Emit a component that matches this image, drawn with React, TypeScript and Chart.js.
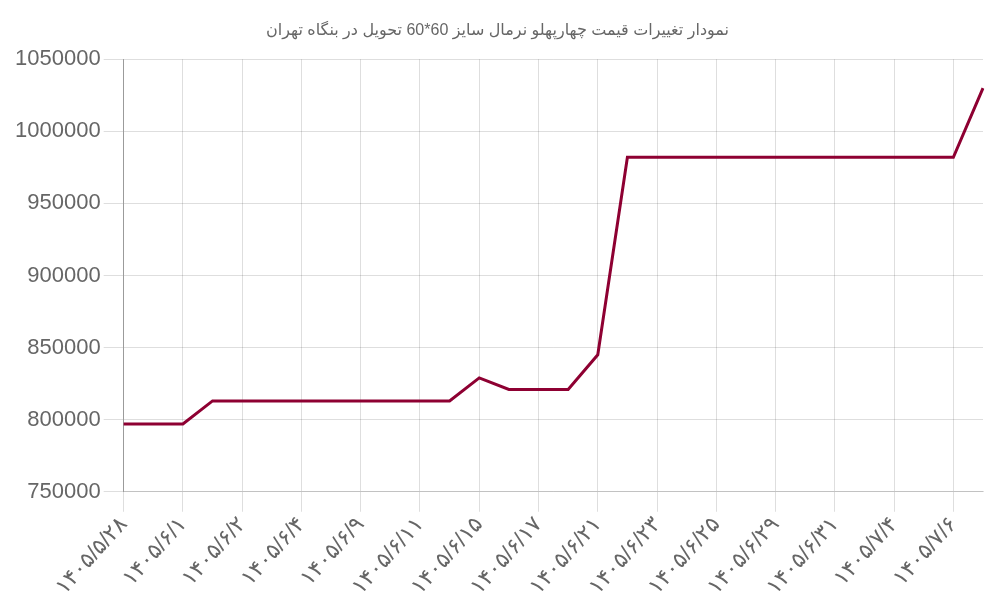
import { useEffect, useRef } from "react";
import { Chart, registerables } from "chart.js";

Chart.register(...registerables);

const chartTitle = "نمودار تغییرات قیمت چهارپهلو نرمال سایز 60*60 تحویل در بنگاه تهران";

// dates (Persian calendar), every other one is shown on the axis
const dates = [
  "۱۴۰۵/۵/۲۸", "۱۴۰۵/۵/۳۰", "۱۴۰۵/۶/۱", "۱۴۰۵/۶/۱", "۱۴۰۵/۶/۲",
  "۱۴۰۵/۶/۳", "۱۴۰۵/۶/۴", "۱۴۰۵/۶/۸", "۱۴۰۵/۶/۹", "۱۴۰۵/۶/۱۰",
  "۱۴۰۵/۶/۱۱", "۱۴۰۵/۶/۱۴", "۱۴۰۵/۶/۱۵", "۱۴۰۵/۶/۱۶", "۱۴۰۵/۶/۱۷",
  "۱۴۰۵/۶/۱۸", "۱۴۰۵/۶/۲۱", "۱۴۰۵/۶/۲۲", "۱۴۰۵/۶/۲۳", "۱۴۰۵/۶/۲۴",
  "۱۴۰۵/۶/۲۵", "۱۴۰۵/۶/۲۸", "۱۴۰۵/۶/۲۹", "۱۴۰۵/۶/۳۰", "۱۴۰۵/۶/۳۱",
  "۱۴۰۵/۷/۱", "۱۴۰۵/۷/۴", "۱۴۰۵/۷/۵", "۱۴۰۵/۷/۶", "۱۴۰۵/۷/۷",
];

const prices = [
  797000, 797000, 797000, 813000, 813000,
  813000, 813000, 813000, 813000, 813000,
  813000, 813000, 829000, 821000, 821000,
  821000, 845000, 982000, 982000, 982000,
  982000, 982000, 982000, 982000, 982000,
  982000, 982000, 982000, 982000, 1030000,
];

const yMin = 750000;
const yMax = 1050000;
const yStep = 50000;

const font = "'Liberation Sans', Arial, 'DejaVu Sans', sans-serif";

export default function App() {
  const canvasRef = useRef<HTMLCanvasElement | null>(null);
  const chartRef = useRef<Chart | null>(null);

  useEffect(() => {
    document.body.style.margin = "0";
    if (!canvasRef.current || chartRef.current) return;

    chartRef.current = new Chart(canvasRef.current, {
      type: "line",
      data: {
        labels: dates,
        datasets: [
          {
            label: "قیمت",
            data: prices,
            borderColor: "rgb(142, 0, 50)",
            backgroundColor: "rgb(142, 0, 50)",
            borderWidth: 3,
            pointRadius: 0,
            tension: 0,
            fill: false,
          },
        ],
      },
      options: {
        animation: false,
        responsive: true,
        maintainAspectRatio: false,
        layout: { padding: { left: 12, right: 17, top: 0, bottom: 0 } },
        plugins: {
          legend: { display: false },
          tooltip: { enabled: false },
          title: {
            display: true,
            text: chartTitle,
            color: "#666",
            font: { family: font, size: 16, weight: "normal" },
            padding: { top: 21, bottom: 19 },
          },
        },
        scales: {
          x: {
            offset: false,
            grid: { color: "rgba(0,0,0,0.13)", tickLength: 20 },
            border: { color: "rgba(0,0,0,0.13)" },
            ticks: {
              color: "#666",
              font: { family: font, size: 22 },
              minRotation: 48,
              maxRotation: 48,
              autoSkip: true,
              maxTicksLimit: 15,
              padding: 0,
            },
          },
          y: {
            min: yMin,
            max: yMax,
            grid: { color: "rgba(0,0,0,0.13)", tickLength: 20 },
            border: { color: "rgba(0,0,0,0.3)" },
            ticks: {
              stepSize: yStep,
              color: "#666",
              font: { family: font, size: 22 },
              padding: 3,
              callback: (v) => String(v),
            },
          },
        },
      },
    });

    return () => {
      chartRef.current?.destroy();
      chartRef.current = null;
    };
  }, []);

  return (
    <div style={{ position: "relative", width: 1000, height: 600 }}>
      <canvas ref={canvasRef} />
    </div>
  );
}
